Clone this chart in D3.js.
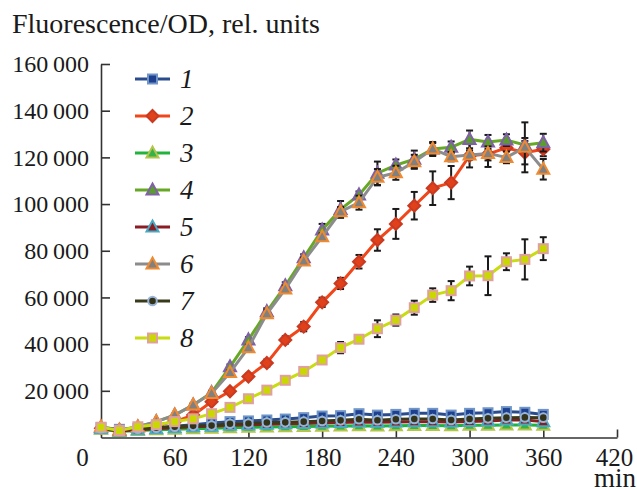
<!DOCTYPE html>
<html>
<head>
<meta charset="utf-8">
<script src="https://cdn.jsdelivr.net/npm/d3@7"></script>
<style>
  body { margin: 0; background: #fff; }
  svg text { font-family: "Liberation Serif", "Times New Roman", Times, serif; fill: #1a1a1a; }
</style>
</head>
<body>
<svg id="chart" width="637" height="489"></svg>
<script>
// sampling times, min
var times = [0, 15, 30, 45, 60, 75, 90, 105, 120, 135, 150, 165, 180, 195, 210, 225, 240, 255, 270, 285, 300, 315, 330, 345, 360];

var s1 = [4200, 3500, 3800, 4200, 4800, 5500, 6200, 6800, 7100, 7500, 7900, 8500, 9200, 9350, 10200, 9600, 9900, 10350, 10350, 9600, 10350, 10600, 11100, 10800, 9900];
var s2 = [4000, 3000, 3800, 5200, 6800, 9600, 15300, 19800, 26100, 31900, 41800, 47500, 57900, 66000, 75300, 84600, 91500, 99300, 106800, 109200, 120700, 121400, 124100, 122000, 123500];
var s3 = [3500, 2600, 3000, 3300, 3500, 3800, 4000, 4200, 4400, 4500, 4600, 4700, 4800, 4900, 5000, 4900, 5000, 5100, 5100, 5000, 5200, 5300, 5400, 5400, 5300];
var s4 = [4300, 3100, 4500, 6800, 9600, 13900, 19200, 30300, 41800, 53900, 65000, 77000, 88900, 97700, 103900, 113200, 116700, 119200, 123600, 124300, 127700, 126600, 127400, 125300, 126300];
var s5 = [3800, 2800, 3300, 3800, 4200, 4600, 4800, 5200, 5400, 5700, 5900, 6000, 6200, 6400, 6600, 6500, 6600, 6700, 6700, 6600, 6900, 7100, 7500, 7500, 6800];
var s6 = [4600, 3200, 4600, 6800, 9600, 13900, 18900, 27800, 38500, 53000, 63600, 75600, 86000, 96700, 100600, 111500, 113400, 118100, 123600, 120300, 121000, 121700, 120000, 124300, 114900];
var s7 = [4000, 3300, 3800, 4200, 4600, 5000, 5100, 5900, 6000, 6400, 6500, 6800, 7100, 7350, 7800, 7400, 7800, 7900, 7900, 7500, 7900, 8200, 8500, 8600, 8500];
var s8 = [4400, 3000, 4600, 5500, 6800, 8000, 10200, 12900, 16600, 20300, 24500, 28300, 33200, 38500, 42100, 46600, 50300, 55600, 61000, 62900, 69200, 69300, 75300, 76300, 80900];

// standard deviations
var e1 = [300, 300, 300, 300, 400, 400, 500, 500, 600, 600, 600, 700, 700, 700, 800, 800, 800, 900, 900, 900, 1000, 1000, 1000, 1000, 1000];
var e2 = [300, 300, 300, 400, 500, 600, 800, 1000, 1200, 1500, 1600, 2000, 2000, 2400, 2900, 4600, 6400, 5900, 7200, 7100, 5000, 5500, 4000, 5000, 3000];
var e3 = [300, 300, 300, 300, 300, 300, 300, 300, 400, 400, 400, 400, 400, 400, 400, 400, 400, 500, 500, 500, 500, 500, 500, 500, 500];
var e4 = [300, 300, 300, 400, 500, 600, 800, 1000, 1200, 1500, 1500, 1500, 2600, 3600, 1500, 5000, 2400, 3700, 3000, 2500, 3800, 3000, 2500, 3000, 3800];
var e5 = [300, 300, 300, 300, 300, 300, 300, 300, 400, 400, 400, 400, 400, 400, 400, 400, 400, 500, 500, 500, 500, 500, 500, 500, 500];
var e6 = [300, 300, 300, 400, 500, 600, 800, 1000, 1200, 1800, 1500, 1500, 1500, 2000, 3000, 3500, 3000, 3000, 2500, 2000, 2000, 3000, 2500, 10700, 4400];
var e7 = [300, 300, 300, 300, 300, 300, 300, 400, 400, 400, 400, 400, 400, 500, 500, 500, 500, 500, 500, 500, 600, 600, 600, 600, 600];
var e8 = [300, 300, 300, 300, 400, 400, 500, 600, 700, 800, 900, 1000, 1000, 2400, 1000, 3600, 2400, 3000, 2900, 4100, 4000, 8300, 3600, 8600, 4900];

var seriesNames = ["1", "2", "3", "4", "5", "6", "7", "8"];
var seriesValues = [s1, s2, s3, s4, s5, s6, s7, s8];
var seriesErrors = [e1, e2, e3, e4, e5, e6, e7, e8];
var seriesShapes = ["square", "diamond", "triangle", "triangle", "triangle", "triangle", "circle", "square"];
var lineColors   = ["#2b4c8c", "#f0461a", "#22b33c", "#66a825", "#8b1c24", "#8c8c8c", "#3a3a1a", "#c8dc10"];
var fillColors   = ["#1f3f8f", "#e0401a", "#33b34a", "#5a9e2a", "#8b1c24", "#808080", "#33331a", "#c8d800"];
var edgeColors   = ["#6f95c8", "#c83a22", "#b5c44a", "#8060a8", "#46aac4", "#f08a30", "#9ab4d8", "#e0a0a0"];

var xTicks = [0, 60, 120, 180, 240, 300, 360, 420];
var yTicks = [20000, 40000, 60000, 80000, 100000, 120000, 140000, 160000];

var svg = d3.select("#chart");

var x = d3.scaleLinear().domain([0, 420]).range([101, 617]);
var y = d3.scaleLinear().domain([0, 160000]).range([437.5, 64]);

/* axis title */
svg.append("text")
  .attr("x", 12).attr("y", 33)
  .style("font-size", "28px")
  .text("Fluorescence/OD, rel. units");

var fmt = function(v) { return d3.format(",")(v).replace(",", "\u2009"); };

var yAxis = svg.append("g")
  .attr("transform", "translate(" + x(0) + ",0)")
  .call(d3.axisLeft(y).tickValues(yTicks).tickSize(-9).tickSizeOuter(0).tickPadding(12).tickFormat(fmt));

var xAxis = svg.append("g")
  .attr("transform", "translate(0," + y(0) + ")")
  .call(d3.axisBottom(x).tickValues(xTicks).tickSize(-8).tickSizeOuter(0).tickPadding(11));

[xAxis, yAxis].forEach(function(a) {
  a.attr("font-family", null);
  a.select(".domain").attr("stroke", "#333").attr("stroke-width", 1.6);
  a.selectAll(".tick line").attr("stroke", "#333").attr("stroke-width", 1.6);
  a.selectAll("text").attr("fill", "#1a1a1a");
});
yAxis.selectAll("text").style("font-size", "24px");
xAxis.selectAll("text").style("font-size", "25px");
// the origin label sits left of the axis corner, no tick there
xAxis.selectAll(".tick").filter(function(d) { return d === 0; })
  .call(function(t) { t.select("line").remove(); t.select("text").attr("x", -19); });
xAxis.selectAll(".tick").filter(function(d) { return d === 420; })
  .select("text").attr("x", -3);

svg.append("text")
  .attr("x", 636).attr("y", 487)
  .attr("text-anchor", "end")
  .style("font-size", "27px")
  .text("min");

function marker(sel, shape, i) {
  var m;
  if (shape === "square") {
    m = sel.append("rect").attr("x", -4.5).attr("y", -4.5).attr("width", 9).attr("height", 9);
  } else if (shape === "diamond") {
    m = sel.append("path").attr("d", "M0,-6L6,0L0,6L-6,0Z");
  } else if (shape === "triangle") {
    m = sel.append("path").attr("d", "M0,-6.5L6,4.5L-6,4.5Z");
  } else {
    m = sel.append("circle").attr("r", 4.3);
  }
  m.attr("fill", fillColors[i]).attr("stroke", edgeColors[i]).attr("stroke-width", 2);
}

var line = d3.line()
  .x(function(d) { return x(d.t); })
  .y(function(d) { return y(d.v); });

seriesValues.forEach(function(vals, i) {
  var pts = times.map(function(t, k) { return {t: t, v: vals[k], e: seriesErrors[i][k]}; });
  var g = svg.append("g").attr("class", "series s" + seriesNames[i]);

  var eb = g.selectAll(".err").data(pts).enter().append("g")
    .attr("class", "err")
    .attr("stroke", "#1a1a1a").attr("stroke-width", 2);
  eb.append("line")
    .attr("x1", function(d) { return x(d.t); }).attr("x2", function(d) { return x(d.t); })
    .attr("y1", function(d) { return y(d.v - d.e); }).attr("y2", function(d) { return y(d.v + d.e); });
  eb.append("line")
    .attr("x1", function(d) { return x(d.t) - 3.5; }).attr("x2", function(d) { return x(d.t) + 3.5; })
    .attr("y1", function(d) { return y(d.v + d.e); }).attr("y2", function(d) { return y(d.v + d.e); });
  eb.append("line")
    .attr("x1", function(d) { return x(d.t) - 3.5; }).attr("x2", function(d) { return x(d.t) + 3.5; })
    .attr("y1", function(d) { return y(d.v - d.e); }).attr("y2", function(d) { return y(d.v - d.e); });

  g.append("path").datum(pts)
    .attr("fill", "none")
    .attr("stroke", lineColors[i])
    .attr("stroke-width", 3)
    .attr("d", line);

  g.selectAll(".mk").data(pts).enter().append("g")
    .attr("class", "mk")
    .attr("transform", function(d) { return "translate(" + x(d.t) + "," + y(d.v) + ")"; })
    .each(function() { marker(d3.select(this), seriesShapes[i], i); });
});

/* legend */
var legend = svg.append("g");
seriesNames.forEach(function(name, i) {
  var cy = 79 + i * 37;
  var item = legend.append("g").attr("transform", "translate(0," + cy + ")");
  item.append("line")
    .attr("x1", 135).attr("x2", 170).attr("y1", 0).attr("y2", 0)
    .attr("stroke", lineColors[i]).attr("stroke-width", 3);
  marker(item.append("g").attr("transform", "translate(152.5,0)"), seriesShapes[i], i);
  item.append("text")
    .attr("x", 180).attr("y", 9)
    .style("font-size", "27px")
    .style("font-style", "italic")
    .text(name);
});
</script>
</body>
</html>
